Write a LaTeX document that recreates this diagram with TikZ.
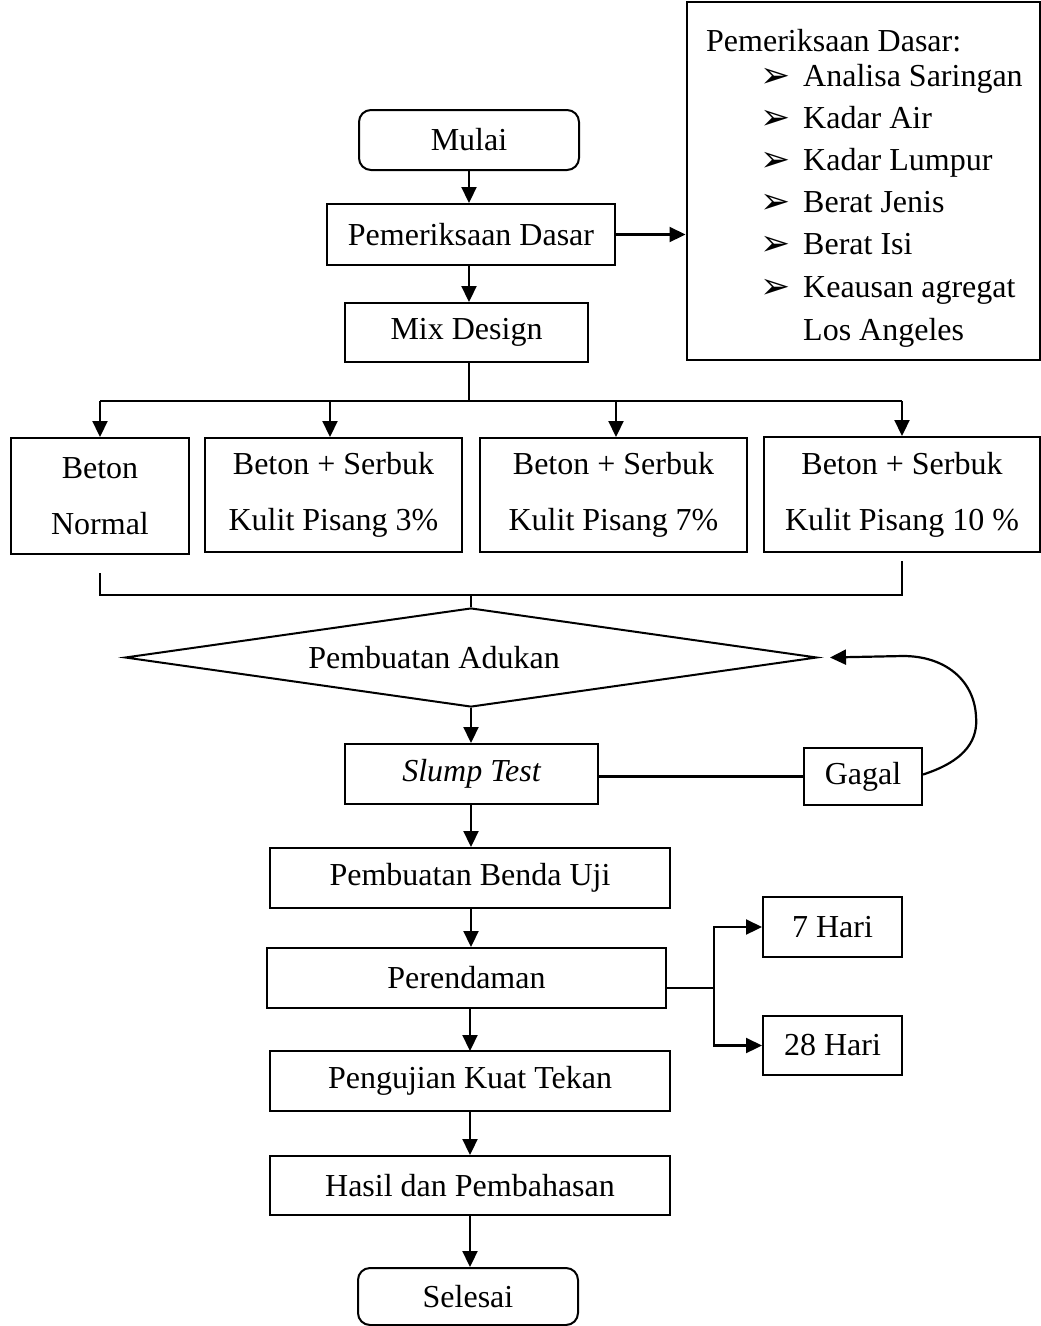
\documentclass[tikz,border=0pt]{standalone}
\usepackage{fontspec}
\setmainfont{Liberation Serif}
\newfontfamily\dejavu{DejaVu Sans}
\usetikzlibrary{shapes.geometric,arrows.meta,calc}
\begin{document}
\begin{tikzpicture}[x=1pt,y=-1pt,
  every node/.style={font=\fontsize{32}{38}\selectfont},
  box/.style={draw, line width=2pt, inner sep=0pt, align=center},
  rbox/.style={box, rounded corners=12pt},
  twobox/.style={box, font=\fontsize{32}{56}\selectfont},
  arr/.style={line width=2.2pt, -{Triangle[length=16pt,width=15pt]}},
  ln/.style={line width=2.2pt},
  item/.style={anchor=base west, inner sep=0pt}]
\useasboundingbox (0,0) rectangle (1041,1326);
\newcommand{\bullmark}{\makebox[43pt][l]{\raisebox{-1pt}{\dejavu\fontsize{36}{40}\selectfont ➢}}}
% main chain
\node[rbox, minimum width=220pt, minimum height=60pt] (mulai) at (469,140) {Mulai};
\node[box, minimum width=288pt, minimum height=61pt] (pd) at (471,234.5) {Pemeriksaan Dasar};
\node[box, minimum width=243pt, minimum height=59pt] (mix) at (466.5,332.5) {Mix Design};
% info box
\node[box, minimum width=353pt, minimum height=358pt] (info) at (863,180.5) {};
\node[item] (it0) at (706,51) {Pemeriksaan Dasar:};
\node[item] (it1) at (760,86) {\bullmark Analisa Saringan};
\node[item] (it2) at (760,128) {\bullmark Kadar Air};
\node[item] (it3) at (760,170) {\bullmark Kadar Lumpur};
\node[item] (it4) at (760,212) {\bullmark Berat Jenis};
\node[item] (it5) at (760,254) {\bullmark Berat Isi};
\node[item] (it6) at (760,297) {\bullmark Keausan agregat};
\node[item] (it7) at (803,340) {Los Angeles};
% variants
\node[twobox, minimum width=178pt, minimum height=116pt] (b1) at (100,496) {Beton\\Normal};
\node[twobox, minimum width=257pt, minimum height=114pt] (b2) at (333.5,495) {Beton + Serbuk\\Kulit Pisang 3\%};
\node[twobox, minimum width=267pt, minimum height=114pt] (b3) at (613.5,495) {Beton + Serbuk\\Kulit Pisang 7\%};
\node[twobox, minimum width=276pt, minimum height=115pt] (b4) at (902,494.5) {Beton + Serbuk\\Kulit Pisang 10 \%};
% diamond
\node[draw, line width=2pt, shape=diamond, inner sep=0pt, minimum width=692pt, minimum height=99pt,
  label={[name=dialab, xshift=-37pt]center:Pembuatan Adukan}] (dia) at (471,657.5) {};
\node[box, minimum width=253pt, minimum height=60pt] (slump) at (471.5,774) {\itshape Slump Test};
\node[box, minimum width=118pt, minimum height=57pt] (gagal) at (863,776.5) {Gagal};
\node[box, minimum width=400pt, minimum height=60pt] (benda) at (470,878) {Pembuatan Benda Uji};
\node[box, minimum width=399pt, minimum height=60pt] (rend) at (466.5,978) {Perendaman};
\node[box, minimum width=139pt, minimum height=60pt] (h7) at (832.5,927) {7 Hari};
\node[box, minimum width=139pt, minimum height=59pt] (h28) at (832.5,1045.5) {28 Hari};
\node[box, minimum width=400pt, minimum height=60pt] (uji) at (470,1081) {Pengujian Kuat Tekan};
\node[box, minimum width=400pt, minimum height=59pt] (hasil) at (470,1185.5) {Hasil dan Pembahasan};
\node[rbox, minimum width=220pt, minimum height=57pt] (selesai) at (468,1296.5) {Selesai};
% connectors
\draw[arr] (mulai.south) -- (mulai.south |- pd.north);
\draw[arr] (pd.east) -- (pd.east -| info.west);
\draw[arr] (mulai.south |- pd.south) -- (mulai.south |- mix.north);
\coordinate (top) at (469,401);
\draw[ln] (mix.south -| top) -- (top);
\draw[ln] (b1.north |- top) -- (b4.north |- top);
\draw[arr] (b1.north |- top) -- (b1.north);
\draw[arr] (330,401) -- (330,437);
\draw[arr] (616,401) -- (616,437);
\draw[arr] (b4.north |- top) -- (b4.north);
\coordinate (join) at (471,595);
\draw[ln] ($(b1.south)+(0,18)$) |- (join) -| ($(b4.south)+(0,8)$);
\draw[ln] (join) -- (dia.north);
\draw[arr] (dia.south) -- (dia.south |- slump.north);
\draw[ln] (gagal.west) -- (gagal.west -| slump.east);
\coordinate (ret) at (903,656);
\draw[ln] ($(gagal.east)+(0,-2)$) .. controls (968,760) and (978,738) .. (976,716)
  .. controls (974,680) and (945,656) .. (ret);
\draw[arr] (ret) -- ($(dia.east)+(12,0)$);
\draw[arr] (dia.south |- slump.south) -- (dia.south |- benda.north);
\draw[arr] (dia.south |- benda.south) -- (dia.south |- rend.north);
\coordinate (br) at (714,988);
\draw[ln] (rend.east |- br) -- (br);
\draw[arr] (br) |- (h7.west);
\draw[arr] (br) |- (h28.west);
\draw[arr] (470,1008) -- (470,1051);
\draw[arr] (uji.south) -- (hasil.north);
\draw[arr] (hasil.south) -- (hasil.south |- selesai.north);
\end{tikzpicture}
\end{document}
